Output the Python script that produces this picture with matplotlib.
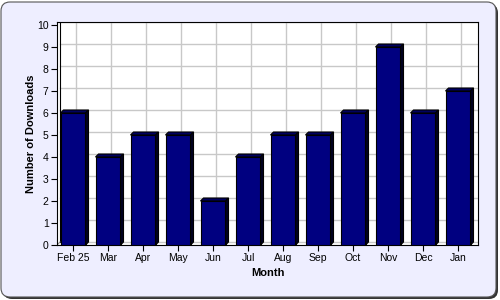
import matplotlib
matplotlib.use('Agg')
import matplotlib.pyplot as plt
from matplotlib.patches import FancyBboxPatch, Polygon

plt.rcParams['font.family'] = ['Liberation Sans', 'DejaVu Sans']

# данные
months = ['Feb 25', 'Mar', 'Apr', 'May', 'Jun', 'Jul', 'Aug', 'Sep', 'Oct', 'Nov', 'Dec', 'Jan']
downloads = [6, 4, 5, 5, 2, 4, 5, 5, 6, 9, 6, 7]
y_ticks = list(range(0, 11))

W, H = 500, 300
fig = plt.figure(figsize=(5, 3), dpi=100, facecolor='white')

# фон с закруглённой рамкой и тенью
shadow = FancyBboxPatch((3 / W, 1 / H), 495 / W, 295 / H, boxstyle='round,pad=0,rounding_size=0.018',
                        transform=fig.transFigure, facecolor='#333333', edgecolor='none',
                        mutation_aspect=W / H, zorder=-2)
fig.patches.append(shadow)
bg = FancyBboxPatch((1 / W, 3 / H), 495 / W, 295 / H, boxstyle='round,pad=0,rounding_size=0.018',
                    transform=fig.transFigure, facecolor='#EEEEFF', edgecolor='#555555', linewidth=0.8,
                    mutation_aspect=W / H, zorder=-1)
fig.patches.append(bg)

# область графика в пикселях: x 57..478, y 22..245
ax = fig.add_axes([57 / W, (H - 245) / H, 421 / W, 223 / H])
ax.set_facecolor('white')
px_x = 35.0   # пикселей на категорию
px_y = 22.0   # пикселей на единицу
ax.set_xlim(-16 / px_x, -16 / px_x + 421 / px_x)
ax.set_ylim(0, 223 / px_y)

# смещение "глубины" 3D
dx = 3 / px_x
dy = 3 / px_y

# сетка на задней стенке
for yv in y_ticks:
    ax.plot([-16 / px_x + dx, 20], [yv + dy, yv + dy], color='#c8c8c8', lw=1, zorder=1)
for i in range(len(months)):
    ax.plot([i + dx, i + dx], [dy, 20], color='#c8c8c8', lw=1, zorder=1)
ax.plot([-16 / px_x + dx] * 2, [dy, 20], color='black', lw=0.8, zorder=1)
ax.plot([-16 / px_x, -16 / px_x + dx], [0, dy], color='#888888', lw=0.8, zorder=1)

# столбцы с тенью
bw = 25 / px_x
ax.bar(range(len(months)), downloads, width=bw, color='#000080', edgecolor='black', linewidth=0.8, zorder=3)
for i, v in enumerate(downloads):
    x0, x1 = i - bw / 2, i + bw / 2
    top = Polygon([(x0, v), (x0 + dx, v + dy), (x1 + dx, v + dy), (x1, v)], closed=True,
                  facecolor='#000060', edgecolor='black', linewidth=0.8, zorder=3)
    side = Polygon([(x1, 0), (x1, v), (x1 + dx, v + dy), (x1 + dx, dy)], closed=True,
                   facecolor='#000020', edgecolor='black', linewidth=0.8, zorder=3)
    ax.add_patch(top)
    ax.add_patch(side)

for s in ax.spines.values():
    s.set_color('black')
    s.set_linewidth(0.8)

ax.set_yticks(y_ticks)
ax.set_xticks(range(len(months)))
ax.set_xticklabels(months)
ax.tick_params(axis='both', labelsize=7.5, length=4, width=0.8, color='black', pad=2)
ax.set_xlabel('Month', fontsize=8, fontweight='bold', labelpad=3)
ax.set_ylabel('Number of Downloads', fontsize=8, fontweight='bold', labelpad=1)

fig.savefig('out.png', dpi=100, facecolor='white')
